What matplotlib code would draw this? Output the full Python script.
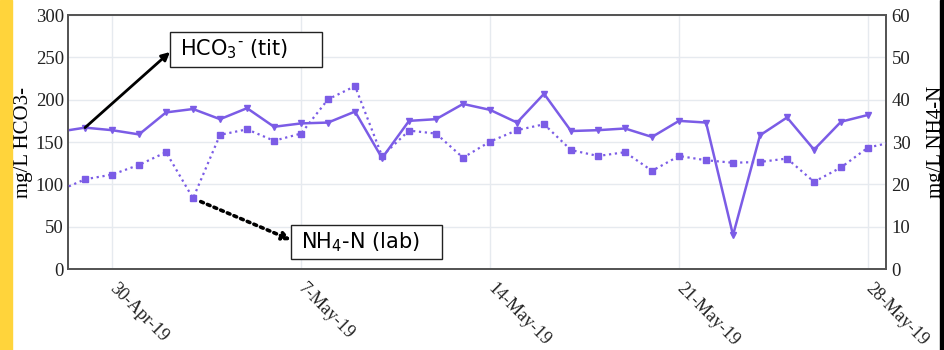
import matplotlib.pyplot as plt
import matplotlib.dates as mdates
import matplotlib.patches as mpatches
import pandas as pd

# daily samples
dates_hco3 = pd.date_range("2019-04-28", "2019-05-28", freq="D")
dates_nh4 = pd.date_range("2019-04-28", "2019-05-29", freq="D")

hco3 = [162, 167, 164, 159, 185, 189, 177, 190, 168, 172, 173, 186, 131,
        175, 177, 195, 188, 173, 207, 163, 164, 166, 156, 175, 173, 40,
        158, 179, 141, 174, 182]
nh4 = [18.4, 21.2, 22.3, 24.6, 27.6, 16.7, 31.7, 33.0, 30.3, 32.0, 40.1,
       43.2, 26.7, 32.7, 32.0, 26.3, 30.1, 32.8, 34.2, 28.1, 26.7, 27.6,
       23.2, 26.7, 25.7, 25.1, 25.3, 26.1, 20.6, 24.0, 28.7, 30.1]

tick_dates = pd.to_datetime(["2019-04-30", "2019-05-07", "2019-05-14",
                             "2019-05-21", "2019-05-28"])

color = "#7B5CE6"
serif = "Liberation Serif"

fig = plt.figure(figsize=(9.45, 3.5), dpi=100)
ax = fig.add_axes([0.072, 0.2314, 0.8656, 0.7256])
ax2 = ax.twinx()

ax.plot(dates_hco3, hco3, color=color, lw=1.8, marker="v", ms=4, zorder=3)
ax2.plot(dates_nh4, nh4, color=color, lw=1.6, ls=":", marker="s", ms=5, zorder=3)

ax.set_xlim(pd.Timestamp("2019-04-28 08:53"), pd.Timestamp("2019-05-28 16:00"))
ax.set_ylim(0, 300)
ax2.set_ylim(0, 60)
ax.set_yticks(range(0, 301, 50))
ax2.set_yticks(range(0, 61, 10))
ax.set_xticks(tick_dates)
ax.xaxis.set_major_formatter(mdates.DateFormatter("%-d-%b-%y"))

ax.grid(True, color="#e6eaef", lw=1)
for a in (ax, ax2):
    for s in a.spines.values():
        s.set_color("#555555")
        s.set_linewidth(1.3)
    a.tick_params(length=0, labelsize=13.5, colors="#222222")
    for lab in a.get_yticklabels():
        lab.set_fontfamily(serif)
ax.tick_params(axis="y", pad=3)
ax2.tick_params(axis="y", pad=4)
ax.tick_params(axis="x", pad=12, labelsize=13)
for lab in ax.get_xticklabels():
    lab.set_fontfamily(serif)
    lab.set_rotation(-45)
    lab.set_ha("left")
    lab.set_va("center")
    lab.set_rotation_mode("anchor")

ax.set_ylabel("mg/L HCO3-", fontfamily=serif, fontsize=15, labelpad=2)
ax2.set_ylabel("mg/L NH4-N", fontfamily=serif, fontsize=15, labelpad=12)

# annotation boxes
fig.patches.append(mpatches.Rectangle((170 / 945, 1 - 67 / 350), 152 / 945, 35 / 350,
                                      transform=fig.transFigure, fc="white",
                                      ec="#222222", lw=1, zorder=5))
fig.text(180 / 945, 1 - 49.5 / 350, r"HCO$_3$$^{\text{-}}$ (tit)", fontsize=15,
         ha="left", va="center", family="DejaVu Sans", zorder=6)
fig.patches.append(mpatches.Rectangle((291 / 945, 1 - 259 / 350), 151 / 945, 34 / 350,
                                      transform=fig.transFigure, fc="white",
                                      ec="#222222", lw=1, zorder=5))
fig.text(301 / 945, 1 - 242 / 350, r"NH$_4$-N (lab)", fontsize=15,
         ha="left", va="center", family="DejaVu Sans", zorder=6)

ax.annotate("", xy=(170 / 945, 1 - 52 / 350), xycoords="figure fraction",
            xytext=(dates_hco3[1], hco3[1]), textcoords="data",
            arrowprops=dict(arrowstyle="-|>", color="black", lw=2,
                            mutation_scale=12, shrinkA=0, shrinkB=0))
ax2.annotate("", xy=(291 / 945, 1 - 240 / 350), xycoords="figure fraction",
             xytext=(dates_nh4[5], nh4[5]), textcoords="data",
             arrowprops=dict(arrowstyle="-|>", color="black", lw=2.6,
                             ls=(0, (0.8, 1.2)), mutation_scale=12,
                             shrinkA=6, shrinkB=0))

# frame strips at the image edges
fig.patches.append(mpatches.Rectangle((0, 0), 12 / 945, 1, transform=fig.transFigure,
                                      color="#FFD43B", zorder=10))
fig.patches.append(mpatches.Rectangle((940 / 945, 0), 5 / 945, 1, transform=fig.transFigure,
                                      color="black", zorder=10))

fig.savefig("out.png", dpi=100)
